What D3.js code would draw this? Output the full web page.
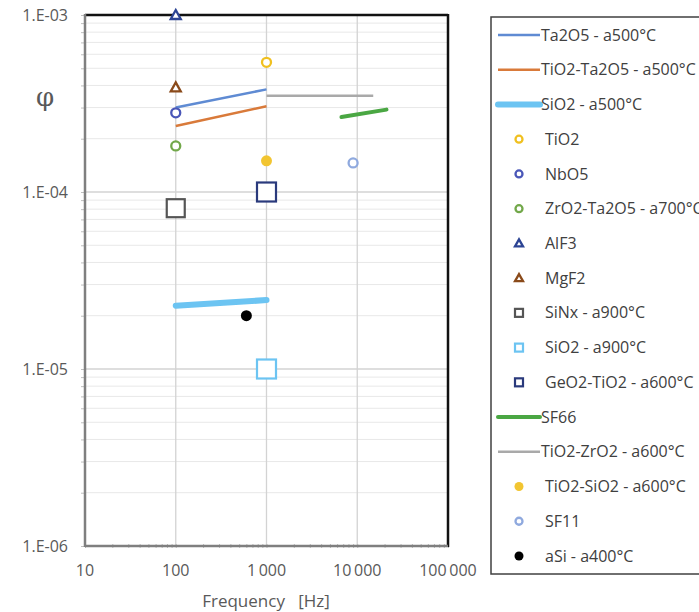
<!DOCTYPE html>
<html>
<head>
<meta charset="utf-8">
<script src="https://cdn.jsdelivr.net/npm/d3@7"></script>
<style>
body { margin: 0; background: #fff; }
text { font-family: "Open Sans", sans-serif; }
</style>
</head>
<body>
<svg id="chart" width="699" height="612"></svg>
<script>
// x tick values / labels
var xTicks = [10, 100, 1000, 10000, 100000];
var xTickLabels = ["10", "100", "1\u2009000", "10\u2009000", "100\u2009000"];
var yTicks = [1e-6, 1e-5, 1e-4, 1e-3];
var yTickLabels = ["1.E-06", "1.E-05", "1.E-04", "1.E-03"];

// line series  [frequency, phi]
var ta2o5 = [[100, 3.0e-4], [1000, 3.8e-4]];
var tio2ta2o5 = [[100, 2.36e-4], [1000, 3.05e-4]];
var sio2a500 = [[100, 2.28e-5], [1000, 2.45e-5]];
var sf66 = [[6700, 2.65e-4], [21000, 2.92e-4]];
var tio2zro2 = [[1000, 3.5e-4], [15000, 3.5e-4]];

// point series
var tio2 = [[1000, 5.4e-4]];
var nbo5 = [[100, 2.8e-4]];
var zro2ta2o5 = [[100, 1.82e-4]];
var alf3 = [[100, 1.0e-3]];
var mgf2 = [[100, 3.9e-4]];
var sinx = [[100, 8.1e-5]];
var sio2a900 = [[1000, 1.0e-5]];
var geo2tio2 = [[1000, 1.0e-4]];
var tio2sio2 = [[1000, 1.5e-4]];
var sf11 = [[9000, 1.46e-4]];
var asi = [[600, 2.0e-5]];

var series = [
  {name: "Ta2O5 - a500\u00b0C", type: "line", data: ta2o5, color: "#5f8bd3", w: 2.5},
  {name: "TiO2-Ta2O5 - a500\u00b0C", type: "line", data: tio2ta2o5, color: "#d97a3a", w: 2.5},
  {name: "SiO2 - a500\u00b0C", type: "line", data: sio2a500, color: "#6cc4f2", w: 6},
  {name: "TiO2", type: "circle", data: tio2, color: "#f0c020"},
  {name: "NbO5", type: "circle", data: nbo5, color: "#4a57b8"},
  {name: "ZrO2-Ta2O5 - a700\u00b0C", type: "circle", data: zro2ta2o5, color: "#72a84a"},
  {name: "AlF3", type: "triangle", data: alf3, color: "#2c4494", size: 10},
  {name: "MgF2", type: "triangle", data: mgf2, color: "#8a4a1a", size: 10},
  {name: "SiNx - a900\u00b0C", type: "square", data: sinx, color: "#555555", size: 18},
  {name: "SiO2 - a900\u00b0C", type: "square", data: sio2a900, color: "#6cc4f2", size: 19},
  {name: "GeO2-TiO2 - a600\u00b0C", type: "square", data: geo2tio2, color: "#2a3a7c", size: 19},
  {name: "SF66", type: "line", data: sf66, color: "#4aa743", w: 4},
  {name: "TiO2-ZrO2 - a600\u00b0C", type: "line", data: tio2zro2, color: "#a9a9a9", w: 2.5},
  {name: "TiO2-SiO2 - a600\u00b0C", type: "dot", data: tio2sio2, color: "#f2c531"},
  {name: "SF11", type: "circle", data: sf11, color: "#8fa9de"},
  {name: "aSi - a400\u00b0C", type: "dot", data: asi, color: "#000000"}
];

var svg = d3.select("#chart");
var pLeft = 85, pRight = 448, pTop = 15, pBottom = 546;

var x = d3.scaleLog().domain([10, 100000]).range([pLeft, pRight]);
var y = d3.scaleLog().domain([1e-6, 1e-3]).range([pBottom, pTop]);

// minor horizontal grid
var minorY = [];
[1e-6, 1e-5, 1e-4].forEach(function(d) {
  for (var k = 2; k <= 9; k++) minorY.push(d * k);
});
svg.append("g").selectAll("line").data(minorY).enter().append("line")
  .attr("x1", pLeft).attr("x2", pRight)
  .attr("y1", function(d) { return y(d); }).attr("y2", function(d) { return y(d); })
  .attr("stroke", "#e8e8e8").attr("stroke-width", 1);

// major grid
svg.append("g").selectAll("line").data(yTicks).enter().append("line")
  .attr("x1", pLeft).attr("x2", pRight)
  .attr("y1", function(d) { return y(d); }).attr("y2", function(d) { return y(d); })
  .attr("stroke", "#d3d3d3").attr("stroke-width", 1.3);
svg.append("g").selectAll("line").data([100, 1000, 10000]).enter().append("line")
  .attr("y1", pTop).attr("y2", pBottom)
  .attr("x1", function(d) { return x(d); }).attr("x2", function(d) { return x(d); })
  .attr("stroke", "#d3d3d3").attr("stroke-width", 1.3);

// axes
var minorX = [];
[10, 100, 1000, 10000].forEach(function(d) {
  for (var k = 2; k <= 9; k++) minorX.push(d * k);
});
var xAxis = svg.append("g").attr("transform", "translate(0," + pBottom + ")")
  .call(d3.axisBottom(x).tickValues(xTicks.concat(minorX)).tickSize(3).tickFormat(""));
xAxis.select(".domain").remove();
xAxis.selectAll(".tick line").attr("stroke", "#bfbfbf").attr("y1", -2).attr("y2", 2);

var yAxis = svg.append("g").attr("transform", "translate(" + pLeft + ",0)")
  .call(d3.axisLeft(y).tickValues(yTicks.concat(minorY)).tickSize(4).tickFormat(""));
yAxis.select(".domain").remove();
yAxis.selectAll(".tick line").attr("stroke", "#bfbfbf");

svg.append("g").selectAll("text").data(xTicks).enter().append("text")
  .attr("x", function(d) { return x(d); }).attr("y", 576)
  .attr("text-anchor", "middle").attr("font-size", 16).attr("fill", "#595959")
  .text(function(d, i) { return xTickLabels[i]; });
svg.append("g").selectAll("text").data(yTicks).enter().append("text")
  .attr("x", 68).attr("y", function(d) { return y(d); }).attr("dy", "0.35em")
  .attr("text-anchor", "end").attr("font-size", 16).attr("fill", "#595959")
  .text(function(d, i) { return yTickLabels[i]; });

// frame
svg.append("line").attr("x1", pLeft).attr("x2", pRight).attr("y1", pTop).attr("y2", pTop)
  .attr("stroke", "#111").attr("stroke-width", 2.5);
svg.append("line").attr("x1", pRight).attr("x2", pRight).attr("y1", pTop - 1).attr("y2", pBottom + 1)
  .attr("stroke", "#111").attr("stroke-width", 2.5);
svg.append("line").attr("x1", pLeft).attr("x2", pRight).attr("y1", pBottom).attr("y2", pBottom)
  .attr("stroke", "#7f7f7f").attr("stroke-width", 2.5);
svg.append("line").attr("x1", pLeft).attr("x2", pLeft).attr("y1", pTop - 1).attr("y2", pBottom + 1)
  .attr("stroke", "#7f7f7f").attr("stroke-width", 2.5);

// axis titles
svg.append("text").attr("x", 45).attr("y", 97).attr("dy", "0.35em")
  .attr("text-anchor", "middle").attr("font-size", 26).attr("fill", "#595959")
  .style("font-family", "DejaVu Serif, serif").text("\u03c6");
svg.append("text").attr("x", 266).attr("y", 607)
  .attr("text-anchor", "middle").attr("font-size", 17).attr("fill", "#595959")
  .attr("xml:space", "preserve").style("white-space", "pre").text("Frequency   [Hz]");

// marks
var line = d3.line().x(function(d) { return x(d[0]); }).y(function(d) { return y(d[1]); });

function drawMarker(g, s, cx, cy, legend) {
  if (s.type === "circle") {
    g.append("circle").attr("cx", cx).attr("cy", cy).attr("r", legend ? 3.5 : 4.5)
      .attr("fill", "#fff").attr("stroke", s.color).attr("stroke-width", 2.3);
  } else if (s.type === "dot") {
    g.append("circle").attr("cx", cx).attr("cy", cy).attr("r", legend ? 4.5 : 5.5)
      .attr("fill", s.color);
  } else if (s.type === "triangle") {
    var h = legend ? 8 : s.size;
    g.append("path")
      .attr("d", "M" + cx + "," + (cy - h / 2) + "L" + (cx + h / 2) + "," + (cy + h / 2 - 1) +
        "L" + (cx - h / 2) + "," + (cy + h / 2 - 1) + "Z")
      .attr("fill", "#fff").attr("stroke", s.color).attr("stroke-width", 2.3);
  } else if (s.type === "square") {
    var a = legend ? 8 : s.size;
    g.append("rect").attr("x", cx - a / 2).attr("y", cy - a / 2).attr("width", a).attr("height", a)
      .attr("fill", "#fff").attr("stroke", s.color).attr("stroke-width", 2.2);
  }
}

var plot = svg.append("g");
series.forEach(function(s) {
  if (s.type === "line") {
    plot.append("path").datum(s.data).attr("d", line)
      .attr("fill", "none").attr("stroke", s.color).attr("stroke-width", s.w)
      .attr("stroke-linecap", s.w > 3 ? "round" : "butt");
  }
});
series.forEach(function(s) {
  if (s.type !== "line") {
    s.data.forEach(function(d) { drawMarker(plot, s, x(d[0]), y(d[1]), false); });
  }
});

// legend
var lg = svg.append("g");
lg.append("rect").attr("x", 491).attr("y", 17).attr("width", 230).attr("height", 557)
  .attr("fill", "#fff").attr("stroke", "#404040").attr("stroke-width", 1.5);
var ly = d3.scalePoint().domain(series.map(function(s) { return s.name; })).range([35, 556]);
series.forEach(function(s) {
  var cy = ly(s.name);
  if (s.type === "line") {
    lg.append("line").attr("x1", 498).attr("x2", 540).attr("y1", cy).attr("y2", cy)
      .attr("stroke", s.color).attr("stroke-width", s.w)
      .attr("stroke-linecap", s.w > 3 ? "round" : "butt");
    lg.append("text").attr("x", 541).attr("y", cy).attr("dy", "0.35em")
      .attr("font-size", 16).attr("fill", "#404040").text(s.name);
  } else {
    drawMarker(lg, s, 519, cy, true);
    lg.append("text").attr("x", 545).attr("y", cy).attr("dy", "0.35em")
      .attr("font-size", 16).attr("fill", "#404040").text(s.name);
  }
});
</script>
</body>
</html>
